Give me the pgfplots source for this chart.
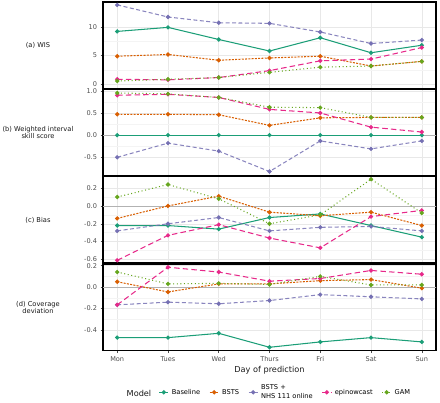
\documentclass[border=0pt]{standalone}
\usepackage{fontspec}
\setmainfont{DejaVu Sans}
\usepackage{pgfplots}
\pgfplotsset{compat=1.18}
\definecolor{cBase}{HTML}{1B9E77}
\definecolor{cBSTS}{HTML}{D95F02}
\definecolor{cNHS}{HTML}{7570B3}
\definecolor{cEpi}{HTML}{E7298A}
\definecolor{cGAM}{HTML}{66A61E}
\definecolor{tickgrey}{HTML}{4D4D4D}
\pgfplotsset{
  panel/.style={
    scale only axis, width=333bp, height=86.5bp, anchor=north west,
    xmin=-0.28, xmax=6.28, xtick={0,...,6},
    xmajorgrids, ymajorgrids, yminorgrids, minor y tick num=1,
    major grid style={gray!18, line width=0.5pt},
    minor grid style={gray!9, line width=0.4pt},
    axis line style={black, line width=1.1pt},
    tick align=outside, major tick length=2.5bp, minor tick length=0pt,
    tick style={tickgrey, line width=0.5pt},
    xtick pos=bottom, ytick pos=left,
    tick label style={font=\fontsize{6.6}{7}\selectfont, text=tickgrey},
    /pgf/number format/assume math mode=true,
    clip=true,
  },
  upper/.style={xticklabels={}, xtick style={draw=none}},
  onedec/.style={yticklabel style={/pgf/number format/.cd, fixed, fixed zerofill, precision=1}},
  common/.style={line width=1.05pt, mark=*, mark size=1.6pt, mark options={solid, draw opacity=1, fill opacity=1}},
  sBase/.style={common, color=cBase, solid},
  sBSTS/.style={common, color=cBSTS, dash pattern=on 2pt off 1.3pt},
  sNHS/.style={common, color=cNHS, dash pattern=on 4pt off 2.5pt, draw opacity=0.85},
  sEpi/.style={common, color=cEpi, dash pattern=on 5.5pt off 3.2pt},
  sGAM/.style={common, color=cGAM, dash pattern=on 1pt off 2.6pt},
  zline/.style={gray!60, line width=0.5pt, forget plot},
}
\begin{document}
\begin{tikzpicture}
\useasboundingbox (0bp,0bp) rectangle (440bp,-403bp);

% (a) WIS
\begin{axis}[panel, upper, at={(103bp,-2bp)}, ymin=-0.7, ymax=14.3, ytick={0,5,10}]
\addplot[sBase] coordinates {(0,9.2)(1,9.9)(2,7.8)(3,5.8)(4,8.1)(5,5.5)(6,6.8)};
\addplot[sBSTS] coordinates {(0,4.9)(1,5.2)(2,4.2)(3,4.6)(4,4.9)(5,3.2)(6,4.0)};
\addplot[sNHS] coordinates {(0,13.8)(1,11.7)(2,10.7)(3,10.6)(4,9.1)(5,7.1)(6,7.7)};
\addplot[sEpi] coordinates {(0,0.9)(1,0.8)(2,1.2)(3,2.4)(4,4.1)(5,4.4)(6,6.4)};
\addplot[sGAM] coordinates {(0,0.6)(1,0.9)(2,1.2)(3,2.1)(4,3.0)(5,3.2)(6,4.0)};
\end{axis}

% (b) WIS skill
\begin{axis}[panel, upper, onedec, at={(103bp,-89bp)}, ymin=-0.91, ymax=1.04, ytick={-0.5,0,0.5,1}]
\addplot[zline] coordinates {(-1,0)(7,0)};
\addplot[sBase] coordinates {(0,0)(1,0)(2,0)(3,0)(4,0)(5,0)(6,0)};
\addplot[sBSTS] coordinates {(0,0.47)(1,0.47)(2,0.46)(3,0.22)(4,0.39)(5,0.40)(6,0.40)};
\addplot[sNHS] coordinates {(0,-0.50)(1,-0.18)(2,-0.36)(3,-0.82)(4,-0.13)(5,-0.31)(6,-0.13)};
\addplot[sEpi] coordinates {(0,0.90)(1,0.92)(2,0.85)(3,0.58)(4,0.50)(5,0.18)(6,0.07)};
\addplot[sGAM] coordinates {(0,0.95)(1,0.93)(2,0.85)(3,0.63)(4,0.62)(5,0.40)(6,0.40)};
\end{axis}

% (c) Bias
\begin{axis}[panel, upper, onedec, at={(103bp,-176.5bp)}, ymin=-0.64, ymax=0.33, ytick={-0.6,-0.4,-0.2,0,0.2}]
\addplot[zline] coordinates {(-1,0)(7,0)};
\addplot[sBase] coordinates {(0,-0.22)(1,-0.22)(2,-0.26)(3,-0.13)(4,-0.09)(5,-0.22)(6,-0.35)};
\addplot[sBSTS] coordinates {(0,-0.14)(1,0.00)(2,0.11)(3,-0.07)(4,-0.11)(5,-0.07)(6,-0.22)};
\addplot[sNHS] coordinates {(0,-0.28)(1,-0.20)(2,-0.13)(3,-0.28)(4,-0.24)(5,-0.23)(6,-0.28)};
\addplot[sEpi] coordinates {(0,-0.61)(1,-0.33)(2,-0.21)(3,-0.36)(4,-0.47)(5,-0.12)(6,-0.05)};
\addplot[sGAM] coordinates {(0,0.10)(1,0.24)(2,0.08)(3,-0.20)(4,-0.10)(5,0.30)(6,-0.08)};
\end{axis}

% (d) Coverage deviation
\begin{axis}[panel, onedec, at={(103bp,-264bp)}, ymin=-0.59, ymax=0.215, ytick={-0.4,-0.2,0,0.2},
  xticklabels={Mon,Tues,Wed,Thurs,Fri,Sat,Sun},
  xlabel={Day of prediction}, xlabel style={font=\fontsize{8.2}{9}\selectfont, text=black!90, yshift=2.5bp},
  legend columns=5,
  legend style={at={(0.548,-0.483)}, anchor=center, draw=none, fill=none,
    font=\fontsize{6.7}{7.6}\selectfont, cells={anchor=west},
    /tikz/every odd column/.append style={column sep=1bp},
    /tikz/every even column/.append style={column sep=7bp}},
  legend image code/.code={\draw[mark repeat=2,mark phase=2,#1] plot coordinates {(0bp,0bp)(4.5bp,0bp)(9bp,0bp)};}]
\addplot[zline] coordinates {(-1,0)(7,0)};
\addplot[sBase] coordinates {(0,-0.47)(1,-0.47)(2,-0.43)(3,-0.56)(4,-0.51)(5,-0.47)(6,-0.51)};
\addlegendentry{Baseline}
\addplot[sBSTS] coordinates {(0,0.05)(1,-0.045)(2,0.03)(3,0.03)(4,0.06)(5,0.07)(6,-0.01)};
\addlegendentry{BSTS}
\addplot[sNHS] coordinates {(0,-0.165)(1,-0.14)(2,-0.155)(3,-0.125)(4,-0.07)(5,-0.09)(6,-0.11)};
\addlegendentry{\shortstack[l]{BSTS +\\NHS 111 online}}
\addplot[sEpi] coordinates {(0,-0.165)(1,0.185)(2,0.14)(3,0.055)(4,0.08)(5,0.155)(6,0.12)};
\addlegendentry{epinowcast}
\addplot[sGAM] coordinates {(0,0.14)(1,0.03)(2,0.035)(3,0.025)(4,0.10)(5,0.02)(6,0.02)};
\addlegendentry{GAM}
\end{axis}

\node[font=\fontsize{8.2}{9}\selectfont, text=black!90] at (139bp,-393bp) {Model};

\begin{scope}[every node/.style={font=\fontsize{6.7}{7.9}\selectfont, align=center, text=black!90}]
\node at (38bp,-45bp) {(a) WIS};
\node at (38bp,-132.5bp) {(b) Weighted interval\\skill score};
\node at (38bp,-220bp) {(c) Bias};
\node at (38bp,-307.5bp) {(d) Coverage\\deviation};
\end{scope}
\end{tikzpicture}
\end{document}
